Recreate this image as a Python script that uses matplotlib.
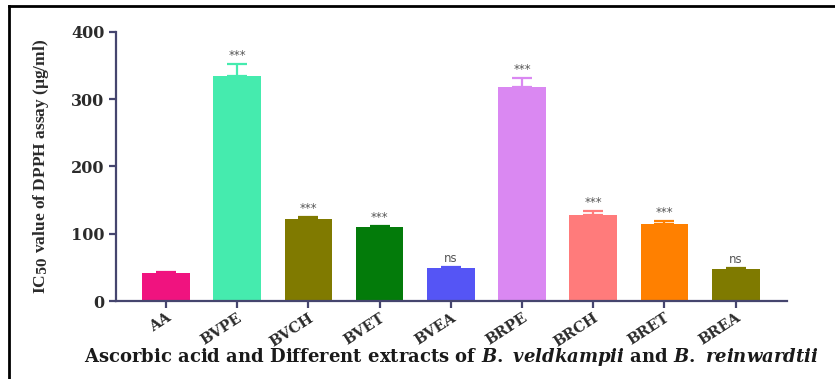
import matplotlib
matplotlib.use('Agg')
import matplotlib.pyplot as plt
from matplotlib.lines import Line2D

# IC50 values (µg/ml) for the DPPH assay, with upper error (SEM)
samples = ['AA', 'BVPE', 'BVCH', 'BVET', 'BVEA', 'BRPE', 'BRCH', 'BRET', 'BREA']
ic50 = [42, 334, 122, 110, 49, 318, 128, 115, 48]
sem = [1.5, 18, 3.5, 2, 1.5, 14, 6, 4, 1.5]
signif = ['', '***', '***', '***', 'ns', '***', '***', '***', 'ns']
bar_colors = ['#F0137F', '#45EBAE', '#807A00', '#037B0A', '#5555F5',
              '#DA88F2', '#FF7B7B', '#FF8000', '#7F7A00']

axis_col = '#45456E'
text_col = '#2B2B2B'

plt.rcParams['mathtext.fontset'] = 'custom'
plt.rcParams['mathtext.rm'] = 'DejaVu Serif:bold'
plt.rcParams['mathtext.it'] = 'DejaVu Serif:bold:italic'
plt.rcParams['mathtext.bf'] = 'DejaVu Serif:bold'

fig = plt.figure(figsize=(8.35, 3.79), dpi=100)
ax = fig.add_axes([0.139, 0.2058, 0.8035, 0.7098])

x = list(range(len(samples)))
ax.bar(x, ic50, width=0.67, color=bar_colors, zorder=2)
for xi, v, e, c, s in zip(x, ic50, sem, bar_colors, signif):
    ax.errorbar(xi, v, yerr=[[0], [e]], color=c, capsize=7, elinewidth=1.6,
                capthick=1.6, zorder=1)
    if s:
        ax.text(xi, v + e + 3, s, ha='center', va='bottom', fontsize=8.5,
                color='#555555', family='DejaVu Sans')

ax.set_xlim(-0.70, 8.72)
ax.set_ylim(0, 400)
ax.set_yticks([0, 100, 200, 300, 400])

for side in ['top', 'right']:
    ax.spines[side].set_visible(False)
for side in ['left', 'bottom']:
    ax.spines[side].set_color(axis_col)
    ax.spines[side].set_linewidth(1.6)

ax.tick_params(axis='both', colors=axis_col, width=1.6, length=5)
ax.tick_params(axis='x', pad=2)
ax.set_xticks(x)
ax.set_xticklabels(samples, rotation=33, ha='right', rotation_mode='anchor',
                   family='DejaVu Serif', fontweight='bold', fontsize=10.5,
                   color=text_col)
for lab in ax.get_yticklabels():
    lab.set_family('DejaVu Serif')
    lab.set_fontweight('bold')
    lab.set_fontsize(11.5)
    lab.set_color(text_col)

ax.set_ylabel(r'IC$_{50}$ value of DPPH assay (µg/ml)', family='Liberation Serif',
              fontweight='bold', fontsize=12.5, color=text_col, labelpad=14)

fig.text(0.54, 0.058,
         r'$\mathrm{Ascorbic\ acid\ and\ Different\ extracts\ of\ }\mathit{B.\ veldkampii}'
         r'\mathrm{\ and\ }\mathit{B.\ reinwardtii}$',
         ha='center', va='center', fontsize=13, color='#1A1A1A')

# black frame on the left and top edges
fig.add_artist(Line2D([0.011, 0.011], [0.0, 0.983], transform=fig.transFigure,
                      color='black', linewidth=2))
fig.add_artist(Line2D([0.011, 1.0], [0.983, 0.983], transform=fig.transFigure,
                      color='black', linewidth=2))

fig.savefig('out.png', dpi=100, facecolor='white')
